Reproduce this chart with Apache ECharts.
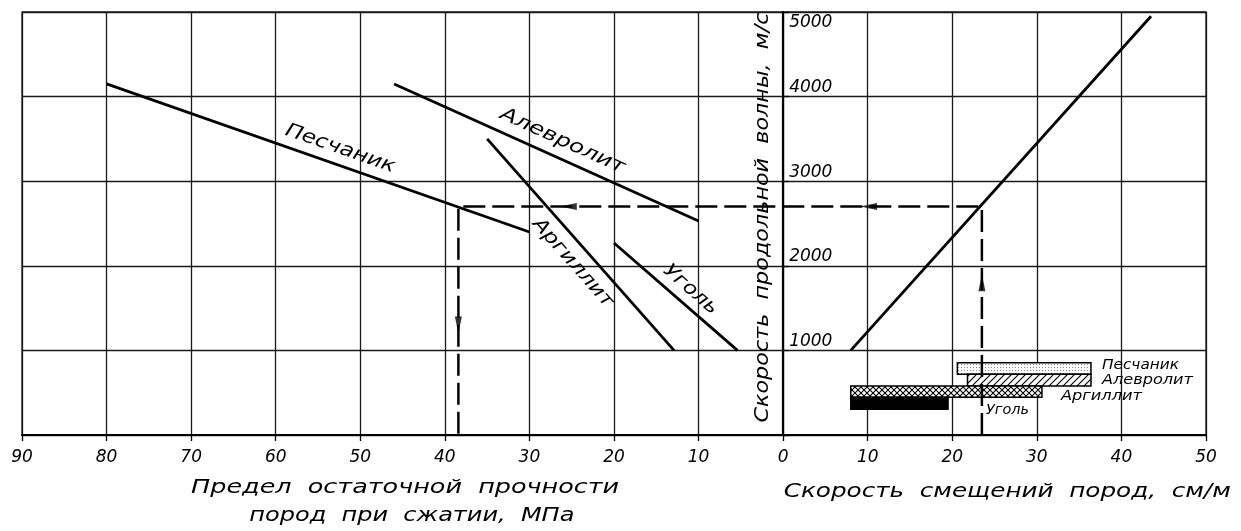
<!DOCTYPE html>
<html><head><meta charset="utf-8">
<script src="https://cdn.jsdelivr.net/npm/echarts@6/dist/echarts.min.js"></script>
<style>html,body{margin:0;padding:0;background:#fff}#c{width:1241px;height:531px}</style>
</head><body><div id="c"></div>
<script>
// ---------- data ----------
const strengthAxisMax = 90;          // MPa, left part (drawn to the left of 0)
const displacementAxisMax = 50;      // cm/m, right part
const velocityTicks = [1000, 2000, 3000, 4000, 5000];
const rockNames = ['Песчаник', 'Алевролит', 'Аргиллит', 'Уголь'];
const rockStrength = [[80, 30], [46, 10], [35, 12.9], [20, 5.4]];         // MPa
const rockVelocity = [[4150, 2400], [4150, 2530], [3500, 1000], [2270, 1000]]; // m/s
const dispLineDisp = [8, 43.5];       // cm/m
const dispLineVel = [1000, 4950];     // m/s
const exampleDisp = 23.5;
const exampleVel = 2700;
const exampleStrength = 38.4;
const arrowX = [23.5, 10.1, -25.4, -38.4];
const arrowY = [1800, 2700, 2700, 1300];
const arrowDir = ['up', 'left', 'left', 'down'];
const rangeNames = ['Песчаник', 'Алевролит', 'Аргиллит', 'Уголь'];
const rangeStart = [20.6, 21.8, 8.0, 8.0];
const rangeEnd = [36.4, 36.4, 30.6, 19.5];
const rangeLow = [718, 579, 446, 304];
const rangeHigh = [855, 718, 579, 446];

// ---------- styling helpers ----------
const FONT = '"DejaVu Sans", sans-serif';
const GRID = { left: 22, right: 35, top: 12, bottom: 96 };
const W = 1241;
function mkCanvas(w, h, draw) {
  const c = document.createElement('canvas'); c.width = w; c.height = h;
  const g = c.getContext('2d'); g.fillStyle = '#fff'; g.fillRect(0, 0, w, h); draw(g); return c;
}
const patDots = mkCanvas(3, 3, g => { g.fillStyle = '#888'; g.fillRect(1, 1, 1, 1); });
const patHatch = mkCanvas(7, 7, g => { g.strokeStyle = '#000'; g.lineWidth = 1.1;
  g.beginPath(); g.moveTo(-1, 8); g.lineTo(8, -1); g.moveTo(-1, 1); g.lineTo(1, -1); g.moveTo(6, 8); g.lineTo(8, 6); g.stroke(); });
const patCross = mkCanvas(6, 6, g => { g.strokeStyle = '#000'; g.lineWidth = 1.1;
  g.beginPath(); g.moveTo(0, 0); g.lineTo(6, 6); g.moveTo(6, 0); g.lineTo(0, 6); g.stroke(); });
const rangeFill = [
  { image: patDots, repeat: 'repeat' },
  { image: patHatch, repeat: 'repeat' },
  { image: patCross, repeat: 'repeat' },
  '#000'
];
const rangeLabelDx = [11, 11, 19, 38];
const rangeLabelDy = [-3, 0, 5, 7];
const rangeLabelW = [77, 91, 81, 43];

const mctx = document.createElement('canvas').getContext('2d');
function fitScale(text, font, target) { mctx.font = font; return target / mctx.measureText(text).width; }

const chart = echarts.init(document.getElementById('c'), null, { renderer: 'canvas' });

const lineStyleBold = { color: '#000', width: 2.8 };
const series = [];
rockNames.forEach((n, i) => {
  series.push({
    name: n, type: 'line', symbol: 'none', z: 5, silent: true,
    lineStyle: lineStyleBold,
    data: [[-rockStrength[i][0], rockVelocity[i][0]], [-rockStrength[i][1], rockVelocity[i][1]]]
  });
});
series.push({
  name: 'disp', type: 'line', symbol: 'none', z: 5, lineStyle: lineStyleBold,
  data: [[dispLineDisp[0], dispLineVel[0]], [dispLineDisp[1], dispLineVel[1]]]
});
series.push({
  name: 'example', type: 'line', symbol: 'none', z: 6,
  lineStyle: { color: '#000', width: 2.5, type: [22, 7] },
  data: [[exampleDisp, 0], [exampleDisp, exampleVel], [-exampleStrength, exampleVel], [-exampleStrength, 0]]
});
const rotMap = { up: 0, left: 90, down: 180, right: -90 };
series.push({
  name: 'arrows', type: 'scatter', symbol: 'path://M5,0 L10,30 L0,30 Z', symbolSize: [7, 17], z: 7,
  itemStyle: { color: '#000' },
  data: arrowX.map((x, i) => ({ value: [x, arrowY[i]], symbolRotate: rotMap[arrowDir[i]] }))
});
series.push({
  name: 'ranges', type: 'custom', z: 4,
  data: rangeNames.map((n, i) => [rangeStart[i], rangeEnd[i], rangeLow[i], rangeHigh[i]]),
  renderItem: function (params, api) {
    const i = params.dataIndex;
    const p1 = api.coord([api.value(0), api.value(3)]);
    const p2 = api.coord([api.value(1), api.value(2)]);
    const font = 'italic 14px ' + FONT;
    return {
      type: 'group', children: [
        { type: 'rect', shape: { x: p1[0], y: p1[1], width: p2[0] - p1[0], height: p2[1] - p1[1] },
          style: { fill: rangeFill[i], stroke: '#000', lineWidth: 1.5 } },
        { type: 'text', x: p2[0] + rangeLabelDx[i], y: (p1[1] + p2[1]) / 2 + rangeLabelDy[i],
          scaleX: fitScale(rangeNames[i], font, rangeLabelW[i]),
          style: { text: rangeNames[i], font: font, fill: '#000', align: 'left', verticalAlign: 'middle' } }
      ]
    };
  }
});

// y axis sits at x = 0 of the combined horizontal scale
const gridW = W - GRID.left - GRID.right;
const yAxisOffset = -gridW * strengthAxisMax / (strengthAxisMax + displacementAxisMax);

const option = {
  animation: false,
  backgroundColor: '#fff',
  grid: Object.assign({ show: true, borderColor: '#1a1a1a', borderWidth: 1.3 }, GRID),
  xAxis: {
    type: 'value', min: -strengthAxisMax, max: displacementAxisMax, interval: 10,
    axisLine: { show: true, lineStyle: { color: '#000', width: 2 } },
    axisTick: { show: true, length: 6, lineStyle: { color: '#000', width: 1.3 } },
    axisLabel: { margin: 14, color: '#000', fontSize: 17, fontStyle: 'italic', fontFamily: FONT,
      formatter: v => String(Math.abs(v)) },
    splitLine: { show: true, lineStyle: { color: '#1a1a1a', width: 1.3 } }
  },
  yAxis: {
    type: 'value', min: 0, max: 5000, interval: 1000, position: 'left', offset: yAxisOffset,
    axisLine: { show: true, onZero: false, lineStyle: { color: '#000', width: 2.2 } },
    axisTick: { show: true, inside: true, length: 6, lineStyle: { color: '#000', width: 1.3 } },
    axisLabel: {
      inside: true, margin: 6, color: '#000', fontSize: 17, fontStyle: 'italic', fontFamily: FONT,
      formatter: v => v === 0 ? '' : (v === 5000 ? '{t|' + v + '}' : '{b|' + v + '}'),
      rich: {
        t: { fontSize: 17, fontStyle: 'italic', fontFamily: FONT, color: '#000', padding: [22, 0, 0, 0] },
        b: { fontSize: 17, fontStyle: 'italic', fontFamily: FONT, color: '#000', padding: [0, 0, 18, 0] }
      }
    },
    splitLine: { show: true, lineStyle: { color: '#1a1a1a', width: 1.3 } }
  },
  series: series
};
chart.setOption(option);

// ---------- text annotations positioned through the axes ----------
const toPx = p => chart.convertToPixel({ gridIndex: 0 }, p);
const labelT = [0.54, 0.53, 0.53, 0.54];
const labelOff = [16, 17, -18, 15];
const labelW = [115, 135, 112, 66];
const graphics = [];
const lblFont = 'italic 19px ' + FONT;
rockNames.forEach((n, i) => {
  const a = toPx([-rockStrength[i][0], rockVelocity[i][0]]);
  const b = toPx([-rockStrength[i][1], rockVelocity[i][1]]);
  const dx = b[0] - a[0], dy = b[1] - a[1], len = Math.hypot(dx, dy);
  const nx = dy / len, ny = -dx / len;
  const t = labelT[i];
  const x = a[0] + dx * t + nx * labelOff[i];
  const y = a[1] + dy * t + ny * labelOff[i];
  graphics.push({ type: 'text', x: x, y: y, rotation: -Math.atan2(dy, dx), scaleX: fitScale(n, lblFont, labelW[i]),
    z: 10, style: { text: n, font: lblFont, fill: '#000', align: 'center', verticalAlign: 'middle' } });
});
const titleFont = 'italic 19px ' + FONT;
const titles = [
  { text: 'Предел  остаточной  прочности', pos: [-44.7, 0], dy: 53, w: 428 },
  { text: 'пород  при  сжатии,  МПа', pos: [-43.9, 0], dy: 81, w: 325 },
  { text: 'Скорость  смещений  пород,  см/м', pos: [26.5, 0], dy: 57, w: 447 }
];
titles.forEach(tt => {
  const p = toPx(tt.pos);
  graphics.push({ type: 'text', x: p[0], y: p[1] + tt.dy, scaleX: fitScale(tt.text, titleFont, tt.w), z: 10,
    style: { text: tt.text, font: titleFont, fill: '#000', align: 'center', verticalAlign: 'middle' } });
});
const yTitle = 'Скорость  продольной  волны,  м/с';
const yp = toPx([0, 2570]);
graphics.push({ type: 'text', x: yp[0] - 20, y: yp[1], rotation: Math.PI / 2,
  scaleX: fitScale(yTitle, titleFont, 410), z: 10,
  style: { text: yTitle, font: titleFont, fill: '#000', align: 'center', verticalAlign: 'middle' } });
chart.setOption({ graphic: graphics });
</script>
</body></html>
